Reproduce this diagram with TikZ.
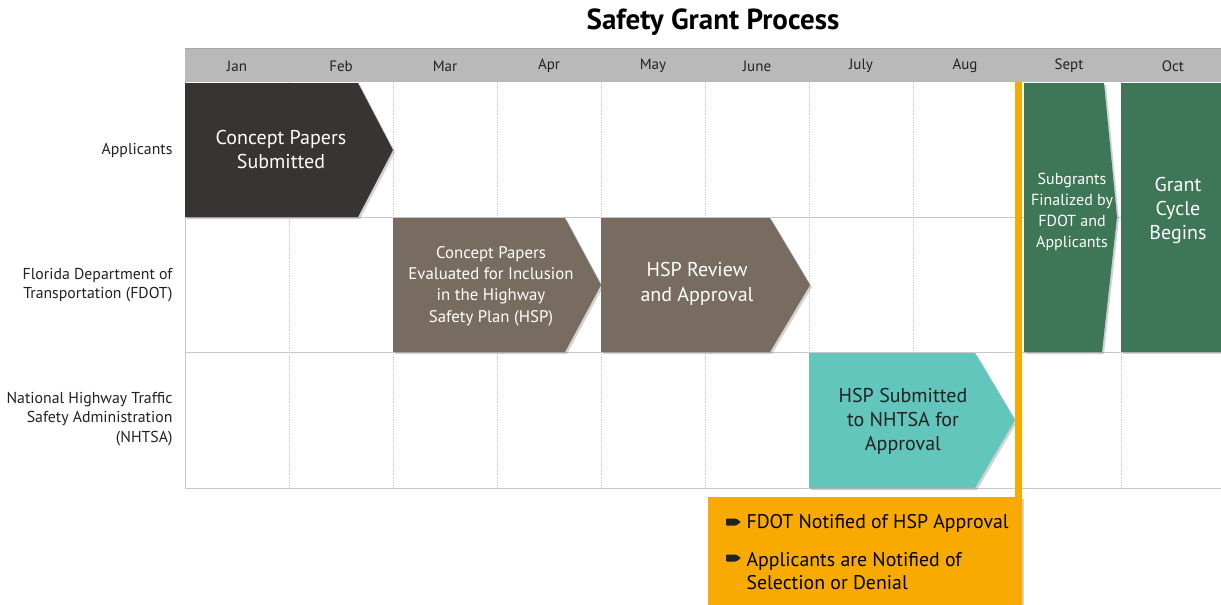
\documentclass[tikz,border=0pt]{standalone}
\usepackage{fontspec}
\setmainfont{PT Sans}
\usetikzlibrary{shadows,calc}
\definecolor{hdrgray}{HTML}{B9B9B9}
\definecolor{gridgray}{HTML}{C8C8C8}
\definecolor{darkbox}{HTML}{393434}
\definecolor{taupe}{HTML}{786C60}
\definecolor{tealbox}{HTML}{62C6BD}
\definecolor{greenbox}{HTML}{3D7757}
\definecolor{orangebox}{HTML}{F8AA00}
\definecolor{txtdark}{HTML}{222222}
\tikzset{
  shp/.style={drop shadow={shadow xshift=2pt,shadow yshift=-2pt,opacity=0.35}},
  monthlbl/.style={font=\fontsize{15}{17}\selectfont, text=txtdark},
  rowlbl/.style={font=\fontsize{15.8}{19.5}\selectfont, text=txtdark, align=right, anchor=east},
  boxtxt/.style={font=\fontsize{20}{24}\selectfont, text=white, align=center},
  smalltxt/.style={font=\fontsize{16}{21}\selectfont, text=white, align=center},
  gridv/.style={gridgray, line width=0.8pt, densely dotted},
  gridh/.style={gridgray, line width=0.9pt},
  orangetxt/.style={font=\fontsize{19.8}{23}\selectfont, text=black, align=left, anchor=west},
}
\begin{document}
\begin{tikzpicture}[x=1pt,y=-1pt]
\useasboundingbox (0,0) rectangle (1221,605);
\fill[white] (0,0) rectangle (1221,605);
% title
\node[font=\bfseries\fontsize{29}{32}\selectfont, text=black] (title) at (713,22) {Safety Grant Process};
% header band
\fill[hdrgray] (185,48) rectangle (1221,82);
\draw[gray!70, line width=0.6pt] (185,48) -- (1221,48);
\foreach \m [count=\i from 0] in {Jan,Feb,Mar,Apr,May,June,July,Aug,Sept,Oct}{
  \node[monthlbl] (m\i) at ({237+104*\i},66) {\m};
}
% grid
\foreach \i in {1,...,9}{
  \draw[gridv] ({185+104*\i},82) -- ({185+104*\i},488);
}
\draw[gridh] (185,82) -- (185,488) -- (1221,488);
\draw[gridh] (185,217) -- (1221,217);
\draw[gridh] (185,352) -- (1221,352);
% row labels
\node[rowlbl] (rApp) at (176,150) {Applicants};
\node[rowlbl] (rFDOT) at (176,285) {Florida Department of\\Transportation (FDOT)};
\node[rowlbl] (rNHTSA) at (176,419) {National Highway Traffic\\Safety Administration\\(NHTSA)};
% shapes
\fill[darkbox, shp] (185,83) -- (358,83) -- (393,150) -- (358,217) -- (185,217) -- cycle;
\node[boxtxt] (cps) at (281,149) {Concept Papers\\Submitted};
\fill[taupe, shp] (393,218) -- (565,218) -- (601,285) -- (565,352) -- (393,352) -- cycle;
\node[font=\fontsize{16.8}{21.3}\selectfont, text=white, align=center] (cpe) at (491,286) {Concept Papers\\Evaluated for Inclusion\\in the Highway\\Safety Plan (HSP)};
\fill[taupe, shp] (601,218) -- (770,218) -- (810,285) -- (770,352) -- (601,352) -- cycle;
\node[boxtxt, font=\fontsize{20}{25}\selectfont] (hspr) at (697,284) {HSP Review\\and Approval};
\fill[tealbox, shp] (809,353) -- (975,353) -- (1015,420) -- (975,488) -- (809,488) -- cycle;
\node[boxtxt, text=txtdark] (hsps) at (903,421) {HSP Submitted\\to NHTSA for\\Approval};
\fill[greenbox, shp] (1024,83) -- (1104,83) -- (1117,217) -- (1102,352) -- (1024,352) -- cycle;
\node[smalltxt] (sub) at (1072,212) {Subgrants\\Finalized by\\FDOT and\\Applicants};
\fill[greenbox, shp] (1121,83) -- (1221,83) -- (1221,352) -- (1121,352) -- cycle;
\node[boxtxt] (gcb) at (1178,210) {Grant\\Cycle\\Begins};
% orange marker and box
\fill[orangebox, shp] (708,497) rectangle (1022,605);
\fill[orangebox] (1015,82) rectangle (1022,605);
\coordinate (b1) at (726,522);
\coordinate (b2) at (726,558);
\foreach \b in {b1,b2}{
  \fill[txtdark, rounded corners=0.8pt] ($(\b)+(0,-3.5)$) -- ++(10,0) -- ++(5,3.5) -- ++(-5,3.5) -- ++(-10,0) -- cycle;
}
\node[orangetxt] (o1) at (743,523) {FDOT Notified of HSP Approval};
\node[orangetxt] (o2) at (743,571) {Applicants are Notified of\\Selection or Denial};
\end{tikzpicture}
\end{document}
